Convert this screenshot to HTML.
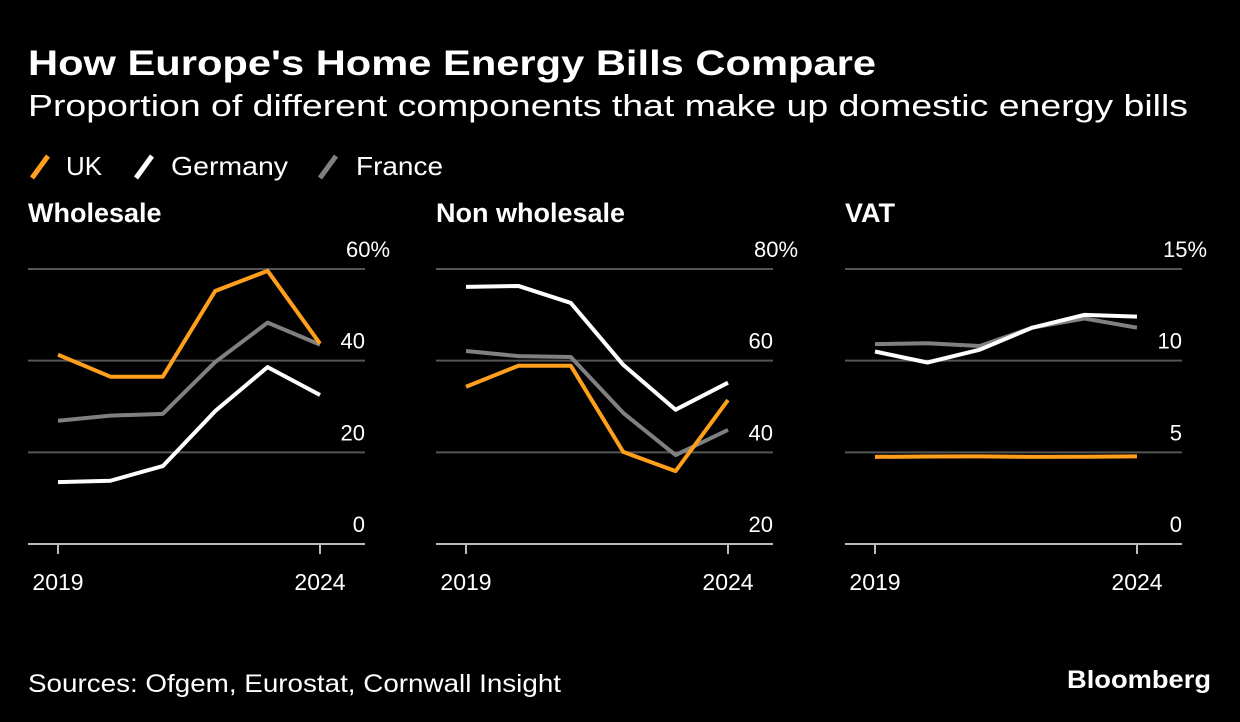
<!DOCTYPE html>
<html><head><meta charset="utf-8">
<style>
body{margin:0;background:#000;width:1240px;height:722px;overflow:hidden;font-family:"Liberation Sans","DejaVu Sans",sans-serif;color:#fff}
svg{position:absolute;left:0;top:0}
</style></head>
<body>
<svg width="1240" height="722" id="c">
<text x="28" y="75" font-size="35" font-weight="bold" fill="#fff" textLength="848" lengthAdjust="spacingAndGlyphs">How Europe's Home Energy Bills Compare</text>
<text x="28" y="116" font-size="31" fill="#fff" textLength="1160" lengthAdjust="spacingAndGlyphs">Proportion of different components that make up domestic energy bills</text>
<g>
<line x1="32" y1="178" x2="48" y2="156" stroke="#ff9f1c" stroke-width="5"/>
<text x="66" y="175" font-size="26" fill="#fff" textLength="36" lengthAdjust="spacingAndGlyphs">UK</text>
<line x1="136" y1="178" x2="152" y2="156" stroke="#fff" stroke-width="5"/>
<text x="171" y="175" font-size="26" fill="#fff" textLength="117" lengthAdjust="spacingAndGlyphs">Germany</text>
<line x1="320" y1="178" x2="336" y2="156" stroke="#808080" stroke-width="5"/>
<text x="356" y="175" font-size="26" fill="#fff" textLength="87" lengthAdjust="spacingAndGlyphs">France</text>
</g>
<text x="28" y="692" font-size="25" fill="#fff" textLength="533" lengthAdjust="spacingAndGlyphs">Sources: Ofgem, Eurostat, Cornwall Insight</text>
<text x="1067" y="688" font-size="25" font-weight="bold" fill="#fff" textLength="144" lengthAdjust="spacingAndGlyphs">Bloomberg</text>
</svg>
<script>
const years=[2019,2020,2021,2022,2023,2024];
const wsUK=[41.3,36.5,36.5,55.2,59.6,43.7];
const wsDE=[13.5,13.8,17,29,38.6,32.5];
const wsFR=[26.9,28,28.4,39.7,48.3,43.5];
const nwUK=[54.3,58.9,58.9,40.1,35.9,51.4];
const nwDE=[76.1,76.3,72.6,59.1,49.3,55.2];
const nwFR=[62.1,61,60.8,48.6,39.4,44.9];
const vatUK=[4.75,4.77,4.78,4.75,4.76,4.78];
const vatDE=[10.5,9.9,10.6,11.8,12.5,12.4];
const vatFR=[10.9,10.95,10.8,11.8,12.3,11.8];
const wsTicks=[0,20,40,60];
const nwTicks=[20,40,60,80];
const vatTicks=[0,5,10,15];
const NS='http://www.w3.org/2000/svg';
const svg=document.getElementById('c');
function mk(t,a){const e=document.createElementNS(NS,t);for(const k in a)e.setAttribute(k,a[k]);svg.appendChild(e);return e;}
function panel(title,slug,x0,ticks,series){
  const gl=x0, gr=x0+337, xa=x0+30, xb=x0+292, yb=544, yt=269;
  const min=ticks[0],max=ticks[ticks.length-1];
  const X=i=>xa+(xb-xa)*(years[i]-years[0])/(years[years.length-1]-years[0]);
  const Y=v=>yb-(yb-yt)*(v-min)/(max-min);
  let t=mk('text',{x:gl,y:222,'font-size':27,'font-weight':'bold',fill:'#fff'});t.textContent=title;
  
  
  ticks.forEach((v,i)=>{
    const y=Y(v);
    const l=mk('line',{x1:gl,x2:gr,y1:y,y2:y,stroke:i===0?'#bbb':'#555','stroke-width':2});
    
    
    const tx=mk('text',{x:gr,y:y-12,'font-size':22,fill:'#fff','text-anchor':'end'});
    tx.textContent=v;
    if(i===ticks.length-1){const s=document.createElementNS(NS,'tspan');s.textContent='%';tx.appendChild(s);tx.setAttribute('text-anchor','start');tx.setAttribute('x',gr-(String(v).length*9.5));}
    
    
  });
  [0,years.length-1].forEach(i=>{
    const l=mk('line',{x1:X(i),x2:X(i),y1:yb,y2:yb+10,stroke:'#bbb','stroke-width':2});
    
    
    const tx=mk('text',{x:X(i),y:590,'font-size':23,fill:'#fff','text-anchor':'middle'});
    tx.textContent=years[i];
    
    
  });
  series.forEach(s=>{
    const p=mk('polyline',{points:s.d.map((v,i)=>X(i)+','+Y(v)).join(' '),fill:'none',stroke:s.c,'stroke-width':4,'stroke-linejoin':'round'});
    
    
  });
}
panel('Wholesale','wholesale',28,wsTicks,[{d:wsFR,c:'#808080',n:'france'},{d:wsDE,c:'#fff',n:'germany'},{d:wsUK,c:'#ff9f1c',n:'uk'}]);
panel('Non wholesale','non-wholesale',436,nwTicks,[{d:nwFR,c:'#808080',n:'france'},{d:nwDE,c:'#fff',n:'germany'},{d:nwUK,c:'#ff9f1c',n:'uk'}]);
panel('VAT','vat',845,vatTicks,[{d:vatFR,c:'#808080',n:'france'},{d:vatDE,c:'#fff',n:'germany'},{d:vatUK,c:'#ff9f1c',n:'uk'}]);
</script>
</body></html>
